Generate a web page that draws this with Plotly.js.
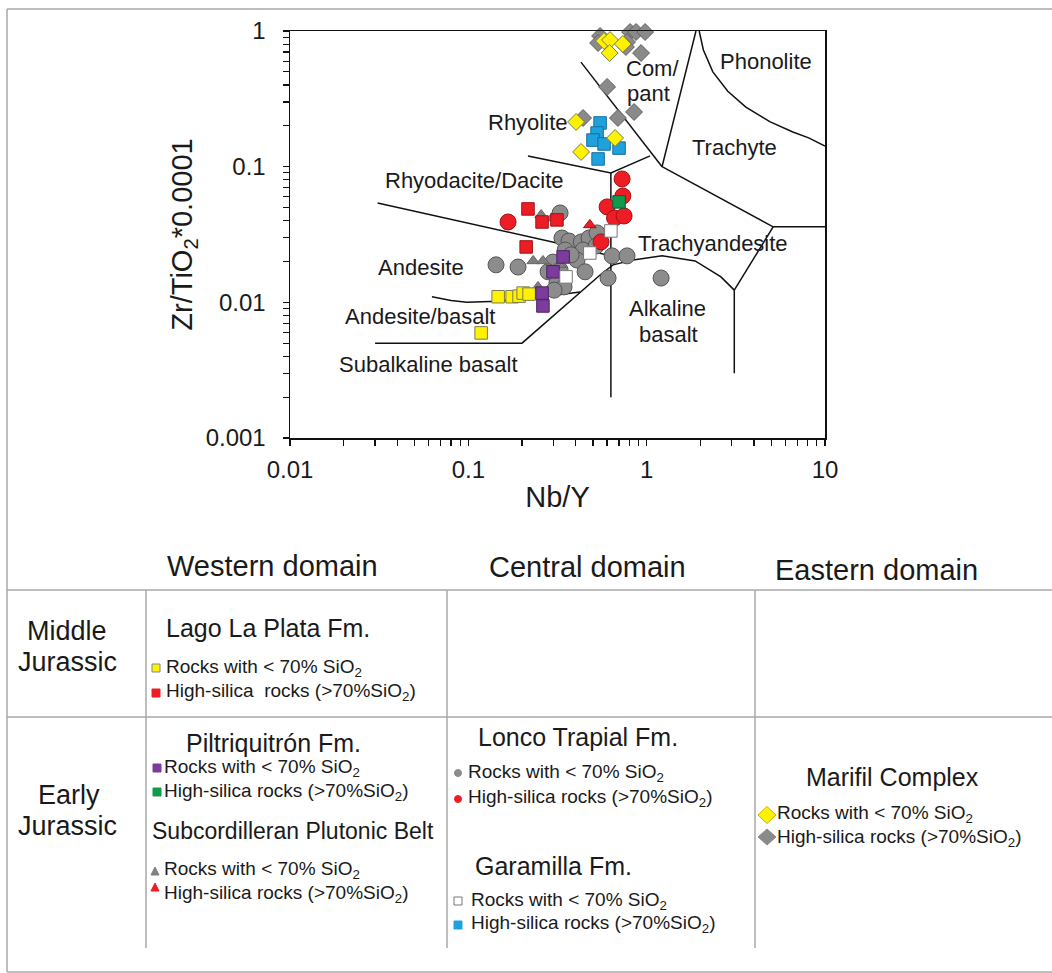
<!DOCTYPE html>
<html><head><meta charset="utf-8">
<script src="https://cdn.plot.ly/plotly-3.0.1.min.js"></script>
<style>html,body{margin:0;padding:0;background:#fff;} #chart{width:1052px;height:973px;}</style>
</head><body><div id="chart"></div>
<script>
// ---------- tick labels ----------
const xTickVals = [0.01, 0.1, 1, 10];
const xTickText = ['0.01', '0.1', '1', '10'];
const yTickVals = [0.001, 0.01, 0.1, 1];
const yTickText = ['0.001', '0.01', '0.1', '1'];

// ---------- field boundaries (Nb/Y , Zr/TiO2*0.0001) ----------
const subalkX = [0.03, 0.2, 0.548, 0.648, 0.84, 1.22, 1.87, 2.61, 3.1];
const subalkY = [0.005, 0.005, 0.0159, 0.0189, 0.0205, 0.022, 0.0202, 0.0154, 0.0123];
const alkRightX = [3.1, 5.12];
const alkRightY = [0.0123, 0.036];
const alkVertX = [3.1, 3.1];
const alkVertY = [0.0123, 0.003];
const andBasX = [0.0625, 0.08, 0.098, 0.147, 0.262, 0.423];
const andBasY = [0.011, 0.0103, 0.01, 0.0102, 0.011, 0.0119];
const andDacX = [0.031, 0.314, 0.63];
const andDacY = [0.054, 0.0274, 0.022];
const dacRhyX = [0.216, 0.63, 1.045];
const dacRhyY = [0.12, 0.09, 0.12];
const vertX = [0.63, 0.63];
const vertY = [0.09, 0.002];
const rhyComX = [0.428, 1.22];
const rhyComY = [0.59, 0.1];
const comTraX = [1.22, 1.89];
const comTraY = [0.1, 1];
const traTaX = [1.22, 5.12, 10];
const traTaY = [0.1, 0.036, 0.036];
const phonX = [1.97, 2.08, 2.35, 2.85, 3.6, 4.9, 6.6, 8.1, 10];
const phonY = [1, 0.724, 0.5, 0.36, 0.275, 0.215, 0.18, 0.163, 0.142];

// ---------- samples ----------
// Lonco Trapial Fm. (<70% SiO2) gray circles
const loncoLowX = [0.143, 0.19, 0.327, 0.335, 0.367, 0.43, 0.475, 0.527, 0.349, 0.44, 0.52, 0.64, 0.776, 0.407, 0.4515, 0.2985, 0.28, 0.314, 0.344, 0.3025, 0.6075, 1.205, 0.377, 0.327];
const loncoLowY = [0.0189, 0.0182, 0.0456, 0.0298, 0.0283, 0.0279, 0.0298, 0.0325, 0.0243, 0.0243, 0.026, 0.022, 0.022, 0.0205, 0.0168, 0.0198, 0.0168, 0.0139, 0.013, 0.0123, 0.0151, 0.0151, 0.0224, 0.0173];
// Lonco Trapial Fm. high-silica red circles
const loncoHighX = [0.728, 0.735, 0.6, 0.66, 0.747, 0.555, 0.167];
const loncoHighY = [0.0812, 0.0608, 0.0505, 0.0418, 0.0433, 0.0279, 0.0391];
// Subcordilleran Plutonic Belt
const subcLowX = [0.256, 0.295, 0.231, 0.262, 0.327, 0.246];
const subcLowY = [0.044, 0.0418, 0.0202, 0.0202, 0.0189, 0.013];
const subcHighX = [0.48];
const subcHighY = [0.0372];
// Lago La Plata Fm.
const lagoLowX = [0.147, 0.176, 0.1925, 0.203, 0.219, 0.118];
const lagoLowY = [0.011, 0.011, 0.0111, 0.0117, 0.0115, 0.00595];
const lagoHighX = [0.216, 0.259, 0.314, 0.211];
const lagoHighY = [0.0488, 0.0391, 0.0405, 0.0256];
// Piltriquitron Fm.
const piltLowX = [0.34, 0.2985, 0.259, 0.262];
const piltLowY = [0.0216, 0.0168, 0.0117, 0.0094];
const piltHighX = [0.70];
const piltHighY = [0.055];
// Garamilla Fm.
const garaLowX = [0.63, 0.48, 0.353];
const garaLowY = [0.0336, 0.0231, 0.0154];
const garaHighX = [0.548, 0.527, 0.50, 0.577, 0.70, 0.534];
const garaHighY = [0.21, 0.177, 0.157, 0.147, 0.137, 0.114];
// Marifil Complex
const mariHighX = [0.548, 0.534, 0.807, 0.872, 0.98, 0.776, 0.765, 0.93, 0.6, 0.85, 0.69, 0.44];
const mariHighY = [0.919, 0.816, 0.983, 0.983, 0.983, 0.83, 0.762, 0.688, 0.387, 0.253, 0.2285, 0.2285];
const mariLowX = [0.577, 0.623, 0.62, 0.735, 0.402, 0.665, 0.4287];
const mariLowY = [0.844, 0.858, 0.688, 0.802, 0.2135, 0.1627, 0.1283];

// ---------- field labels ----------
const fieldLabels = ['Phonolite', 'Com/', 'pant', 'Rhyolite', 'Trachyte', 'Rhyodacite/Dacite', 'Trachyandesite', 'Andesite', 'Andesite/basalt', 'Alkaline', 'basalt', 'Subalkaline basalt'];

const FONT = 'Liberation Sans, Arial, sans-serif';
const TXT = '#1a1a1a';
const L = 290, R = 825, T = 31, B = 438;
const W = R - L, H = B - T;
const px = x => (x - L) / W;
const py = y => (B - y) / H;

function lineTrace(x, y) {
  return {x: x, y: y, type: 'scatter', mode: 'lines', line: {color: '#111', width: 1.5},
          hoverinfo: 'skip', showlegend: false};
}
function markTrace(x, y, symbol, size, fill, edge, name) {
  return {x: x, y: y, type: 'scatter', mode: 'markers', name: name, showlegend: false, cliponaxis: false,
          marker: {symbol: symbol, size: size, color: fill, line: {color: edge, width: 1}}};
}

const C = {
  gray: '#8c8c8c', grayEdge: '#555555',
  red: '#ee1c24', redEdge: '#a01414',
  yellow: '#fff200', yellowEdge: '#7a7a55',
  purple: '#7b3c9c', purpleEdge: '#4a2266',
  green: '#0f9a4e', greenEdge: '#0a5a2e',
  white: '#ffffff', whiteEdge: '#777777',
  blue: '#1ea1dd', blueEdge: '#15709c'
};

const traces = [
  lineTrace(subalkX, subalkY), lineTrace(alkRightX, alkRightY), lineTrace(alkVertX, alkVertY),
  lineTrace(andBasX, andBasY), lineTrace(andDacX, andDacY), lineTrace(dacRhyX, dacRhyY),
  lineTrace(vertX, vertY), lineTrace(rhyComX, rhyComY), lineTrace(comTraX, comTraY),
  lineTrace(traTaX, traTaY), lineTrace(phonX, phonY),
  markTrace(loncoLowX, loncoLowY, 'circle', 16, C.gray, C.grayEdge, 'Lonco Trapial <70%'),
  markTrace(loncoHighX, loncoHighY, 'circle', 16, C.red, C.redEdge, 'Lonco Trapial >70%'),
  markTrace(subcLowX, subcLowY, 'triangle-up', 11, '#7f7f7f', '#666666', 'Subcordilleran <70%'),
  markTrace(subcHighX, subcHighY, 'triangle-up', 11, C.red, C.redEdge, 'Subcordilleran >70%'),
  markTrace(lagoLowX, lagoLowY, 'square', 12.5, C.yellow, C.yellowEdge, 'Lago La Plata <70%'),
  markTrace(lagoHighX, lagoHighY, 'square', 12.5, C.red, C.redEdge, 'Lago La Plata >70%'),
  markTrace(piltLowX, piltLowY, 'square', 12.5, C.purple, C.purpleEdge, 'Piltriquitrón <70%'),
  markTrace(piltHighX, piltHighY, 'square', 12.5, C.green, C.greenEdge, 'Piltriquitrón >70%'),
  markTrace(garaLowX, garaLowY, 'square', 12.5, C.white, C.whiteEdge, 'Garamilla <70%'),
  markTrace(garaHighX, garaHighY, 'square', 12.5, C.blue, C.blueEdge, 'Garamilla >70%'),
  markTrace(mariHighX, mariHighY, 'diamond', 13, '#8a8a8a', '#606060', 'Marifil >70%'),
  markTrace(mariLowX, mariLowY, 'diamond', 13, C.yellow, C.yellowEdge, 'Marifil <70%')
];

// ---------- annotations ----------
function txt(text, x, y, size, xanchor) {
  return {text: text, xref: 'paper', yref: 'paper', x: px(x), y: py(y), xanchor: xanchor || 'center',
          yanchor: 'middle', showarrow: false, font: {size: size, color: TXT, family: FONT}};
}
const fieldPos = [[766, 61, 'center'], [624, 68, 'left'], [625, 93, 'left'], [527, 123, 'center'],
  [734, 147, 'center'], [474, 180, 'center'], [713, 244, 'center'], [421, 267, 'center'],
  [420, 317, 'center'], [667, 308, 'center'], [668, 334, 'center'], [428, 364, 'center']];
const annotations = fieldLabels.map((t, i) => txt(t, fieldPos[i][0], fieldPos[i][1], 22, fieldPos[i][2]));

const SI = 'SiO<sub>2</sub>';
const low = 'Rocks with < 70% ' + SI;
const high = 'High-silica rocks (>70%' + SI + ')';
annotations.push(
  txt('Western domain', 272, 566, 29), txt('Central domain', 587, 567, 29), txt('Eastern domain', 876, 570, 29),
  txt('Middle', 67, 631, 27), txt('Jurassic', 67, 662, 27),
  txt('Early', 69, 795, 27), txt('Jurassic', 67, 826, 27),
  txt('Lago La Plata Fm.', 164, 628, 25, 'left'),
  txt(low, 164, 668, 19, 'left'), txt('High-silica\u00a0 rocks (>70%' + SI + ')', 164, 692, 19, 'left'),
  txt('Piltriquitrón Fm.', 273, 743, 25),
  txt(low, 162, 768, 19, 'left'), txt(high, 162, 792, 19, 'left'),
  txt('Subcordilleran Plutonic Belt', 293, 831, 23),
  txt(low, 162, 870, 19, 'left'), txt(high, 162, 894, 19, 'left'),
  txt('Lonco Trapial Fm.', 578, 737, 25),
  txt(low, 466, 773, 19, 'left'), txt(high, 466, 798, 19, 'left'),
  txt('Garamilla Fm.', 553, 866, 25),
  txt(low, 469, 901, 19, 'left'), txt(high, 469, 924, 19, 'left'),
  txt('Marifil Complex', 892, 777, 25),
  txt(low, 775, 814, 19, 'left'), txt(high, 775, 838, 19, 'left')
);

// ---------- shapes: frame, table lines, legend symbols ----------
const GRID = '#a8a8a8';
function seg(x0, y0, x1, y1, color, w) {
  return {type: 'line', xref: 'paper', yref: 'paper', x0: px(x0), y0: py(y0), x1: px(x1), y1: py(y1),
          line: {color: color, width: w}};
}
function sq(cx, cy, s, fill, edge) {
  return {type: 'rect', xref: 'paper', yref: 'paper', x0: px(cx - s / 2), x1: px(cx + s / 2),
          y0: py(cy + s / 2), y1: py(cy - s / 2), fillcolor: fill, line: {color: edge, width: 1}};
}
function circ(cx, cy, d, fill, edge) {
  return {type: 'circle', xref: 'paper', yref: 'paper', x0: px(cx - d / 2), x1: px(cx + d / 2),
          y0: py(cy + d / 2), y1: py(cy - d / 2), fillcolor: fill, line: {color: edge, width: 1}};
}
function poly(pts, fill, edge) {
  const d = pts.map((p, i) => (i ? 'L' : 'M') + px(p[0]) + ',' + py(p[1])).join(' ') + ' Z';
  return {type: 'path', xref: 'paper', yref: 'paper', path: d, fillcolor: fill, line: {color: edge, width: 1}};
}
function tri(cx, cy, s, fill, edge) {
  return poly([[cx - s / 2, cy + s / 2], [cx + s / 2, cy + s / 2], [cx, cy - s / 2]], fill, edge);
}
function dia(cx, cy, w, h, fill, edge) {
  return poly([[cx, cy - h / 2], [cx + w / 2, cy], [cx, cy + h / 2], [cx - w / 2, cy]], fill, edge);
}

const shapes = [
  seg(7, 9, 1052, 9, GRID, 1.5), seg(7, 9, 7, 972, GRID, 1.5), seg(7, 972, 1052, 972, GRID, 1.5),
  seg(7, 590, 1052, 590, GRID, 1.5), seg(7, 717, 1052, 717, GRID, 1.5),
  seg(146, 590, 146, 948, GRID, 1.5), seg(447, 590, 447, 948, GRID, 1.5), seg(755, 590, 755, 948, GRID, 1.5),
  sq(156, 668, 8, C.yellow, '#888'), sq(156, 693, 8, C.red, C.red),
  sq(157, 768, 8, C.purple, C.purple), sq(157, 792, 8, C.green, C.green),
  tri(155, 871, 8, '#808080', '#808080'), tri(155, 887, 8, C.red, C.red),
  circ(458, 773, 7, C.gray, C.gray), circ(458, 799, 7, C.red, C.red),
  sq(458, 901, 8, C.white, '#777'), sq(458, 925, 8, C.blue, C.blue),
  dia(767, 815, 18, 17, C.yellow, '#c8b400'), dia(767, 837, 18, 16, '#8a8a8a', '#8a8a8a')
];

// minor tick positions (2..9 within each decade)
const minorX = [], minorY = [];
[0.01, 0.1, 1].forEach(d => { for (let k = 2; k <= 9; k++) minorX.push(d * k); });
[0.001, 0.01, 0.1].forEach(d => { for (let k = 2; k <= 9; k++) minorY.push(d * k); });

const axisCommon = {
  type: 'log', showgrid: false, zeroline: false, showline: true, linecolor: '#111', linewidth: 1.5,
  mirror: true, ticks: 'outside', ticklen: 6, tickwidth: 1.3, tickcolor: '#111',
  tickmode: 'array', tickfont: {size: 24, color: TXT, family: FONT}
};

const layout = {
  width: 1052, height: 973,
  margin: {l: L, r: 1052 - R, t: T, b: 973 - B, pad: 0},
  paper_bgcolor: '#fff', plot_bgcolor: '#fff',
  showlegend: false,
  font: {family: FONT, color: TXT, size: 19},
  xaxis: Object.assign({}, axisCommon, {
    range: [-2, 1], tickvals: xTickVals, ticktext: xTickText, ticklabelstandoff: 4,
    minor: {tickmode: 'array', tickvals: minorX, ticks: 'outside', ticklen: 6, tickwidth: 1.2, tickcolor: '#111'},
    title: {text: 'Nb/Y', font: {size: 29, color: TXT, family: FONT}, standoff: 4}
  }),
  yaxis: Object.assign({}, axisCommon, {
    range: [-3, 0], tickvals: yTickVals, ticktext: yTickText, ticklabelstandoff: 12,
    minor: {tickmode: 'array', tickvals: minorY, ticks: 'outside', ticklen: 6, tickwidth: 1.2, tickcolor: '#111'},
    title: {text: 'Zr/TiO<sub>2</sub>*0.0001', font: {size: 29, color: TXT, family: FONT}, standoff: 4}
  }),
  annotations: annotations,
  shapes: shapes
};

Plotly.newPlot('chart', traces, layout, {displayModeBar: false, staticPlot: true});
</script>
</body></html>
